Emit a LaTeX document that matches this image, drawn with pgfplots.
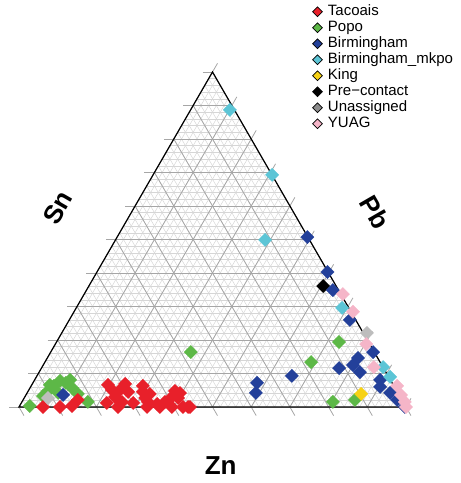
\documentclass[border=0pt]{standalone}
\usepackage{fontspec}
\setmainfont{Liberation Sans}
\usepackage{pgfplots}
\pgfplotsset{compat=1.18}
\definecolor{tred}{HTML}{E8202A}
\definecolor{tgreen}{HTML}{5DB847}
\definecolor{tblue}{HTML}{23409A}
\definecolor{tcyan}{HTML}{5CC5D6}
\definecolor{tyellow}{HTML}{F7D215}
\definecolor{tgray}{HTML}{BDBDBD}
\definecolor{tgrayleg}{HTML}{8C8C8C}
\definecolor{tpink}{HTML}{F5B5C8}
\definecolor{minorc}{HTML}{D6D6D6}
\definecolor{majorc}{HTML}{A6A6A6}
\pgfplotsset{
  pt/.style={only marks, mark=square*, mark size=4.7bp,
    mark options={rotate=45, draw=#1, fill=#1, line width=0.3bp}},
  lg/.style={only marks, mark=square*, mark size=3.5bp,
    mark options={rotate=45, draw=black, fill=#1, line width=0.7bp}},
}
\begin{document}
\begin{tikzpicture}
\begin{axis}[
  width=461bp, height=483bp, scale only axis,
  xmin=-0.0491, xmax=1.1421, ymin=-0.2269, ymax=1.2149,
  axis lines=none, clip=false,
  legend cell align=left,
  legend style={at={(axis description cs:0.678,0.990)}, anchor=north west,
    draw=none, fill=none, inner sep=0pt, outer sep=0pt,
    font=\fontsize{15bp}{16bp}\selectfont, row sep=2.2bp, column sep=5.5bp,
    nodes={inner sep=0pt, font=\fontsize{15bp}{16bp}\selectfont,
      text height=10.8bp, text depth=3bp}},
]
\path (rel axis cs:0,0) rectangle (rel axis cs:1,1);
% minor grid
\pgfplotsinvokeforeach{1,...,49}{
  \draw[minorc, line width=0.5bp] (axis cs:{#1/100},{#1/50}) -- (axis cs:{1-#1/100},{#1/50});
  \draw[minorc, line width=0.5bp] (axis cs:{#1/50},0) -- (axis cs:{0.5+#1/100},{1-#1/50});
  \draw[minorc, line width=0.5bp] (axis cs:{#1/50},0) -- (axis cs:{#1/100},{#1/50});
}
% major grid with ticks
\pgfplotsinvokeforeach{0,...,10}{
  \draw[majorc, line width=0.8bp] (axis cs:{#1/20-0.0258},{#1/10}) -- (axis cs:{1-#1/20},{#1/10});
  \draw[majorc, line width=0.8bp] (axis cs:{#1/10},0) -- (axis cs:{0.5+#1/20+0.0129},{1-#1/10+0.0258});
  \draw[majorc, line width=0.8bp] (axis cs:{#1/10+0.0129},-0.0258) -- (axis cs:{#1/20},{#1/10});
}
\draw[black, line width=1.2bp] (axis cs:0,0) -- (axis cs:1,0) -- (axis cs:0.5,1) -- cycle;
% legend
\addlegendimage{lg=tred}\addlegendentry{Tacoais}
\addlegendimage{lg=tgreen}\addlegendentry{Popo}
\addlegendimage{lg=tblue}\addlegendentry{Birmingham}
\addlegendimage{lg=tcyan}\addlegendentry{Birmingham\_mkpo}
\addlegendimage{lg=tyellow}\addlegendentry{King}
\addlegendimage{lg=black}\addlegendentry{Pre−contact}
\addlegendimage{lg=tgrayleg}\addlegendentry{Unassigned}
\addlegendimage{lg=tpink}\addlegendentry{YUAG}
% Popo
\addplot[pt=tgreen, forget plot] coordinates {
(0.028,0.003) (0.062,0.033) (0.075,0.048) (0.080,0.066) (0.090,0.063) (0.106,0.078)
(0.121,0.072) (0.132,0.081) (0.137,0.057) (0.152,0.039) (0.178,0.015) (0.101,0.042)
(0.444,0.164) (0.827,0.194) (0.755,0.134) (0.811,0.015) (0.868,0.021)};
% Tacoais
\addplot[pt=tred, forget plot] coordinates {
(0.062,0.000) (0.106,0.000) (0.137,0.003) (0.152,0.021)
(0.230,0.066) (0.240,0.051) (0.261,0.051) (0.274,0.069) (0.282,0.045) (0.248,0.030)
(0.227,0.012) (0.256,0.000) (0.266,0.015) (0.295,0.012) (0.320,0.045) (0.326,0.027)
(0.338,0.039) (0.333,0.015) (0.331,0.000) (0.357,0.009) (0.364,0.000) (0.377,0.015)
(0.390,0.024) (0.395,0.000) (0.403,0.048) (0.411,0.027) (0.416,0.042) (0.424,0.000)
(0.437,0.000) (0.442,0.000) (0.320,0.063)};
% Pre-contact
\addplot[pt=black, forget plot] coordinates {(0.786,0.361)};
% Birmingham
\addplot[pt=tblue, forget plot] coordinates {
(0.745,0.507) (0.797,0.403) (0.811,0.349) (0.855,0.260) (0.915,0.164) (0.876,0.146)
(0.863,0.125) (0.881,0.104) (0.827,0.116) (0.705,0.093) (0.933,0.081) (0.933,0.060)
(0.959,0.042) (0.977,0.021) (0.997,0.000) (0.615,0.072) (0.612,0.042) (0.114,0.036)};
% Birmingham_mkpo
\addplot[pt=tcyan, forget plot] coordinates {
(0.545,0.887) (0.654,0.693) (0.636,0.499) (0.835,0.296) (0.941,0.119) (0.959,0.090)};
% King
\addplot[pt=tyellow, forget plot] coordinates {(0.884,0.039)};
% Unassigned
\addplot[pt=tgray, forget plot] coordinates {(0.899,0.221) (0.075,0.027)};
% YUAG
\addplot[pt=tpink, forget plot] coordinates {
(0.837,0.337) (0.863,0.284) (0.897,0.188) (0.917,0.119) (0.977,0.063) (0.987,0.036)
(0.997,0.015) (1.000,0.000)};
% axis labels
\node[font=\fontsize{26bp}{30bp}\selectfont\bfseries, rotate=60] at (axis cs:0.100,0.594) {Sn};
\node[font=\fontsize{26bp}{30bp}\selectfont\bfseries, rotate=-60] at (axis cs:0.920,0.582) {Pb};
\node[font=\fontsize{26bp}{30bp}\selectfont\bfseries] at (axis cs:0.521,-0.176) {Zn};
\end{axis}
\end{tikzpicture}
\end{document}
